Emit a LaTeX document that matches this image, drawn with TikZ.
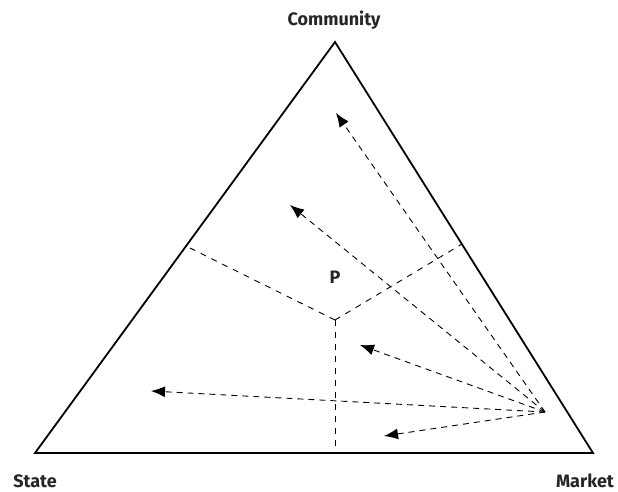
\documentclass[tikz,border=0pt]{standalone}
\usepackage{fontspec}
\setmainfont{Fira Sans}
\usetikzlibrary{arrows.meta}
\begin{document}
\begin{tikzpicture}[x=1pt,y=-1pt,
  edge/.style={line width=1.8pt,line join=miter},
  part/.style={line width=0.9pt,dash pattern=on 6pt off 6pt},
  flow/.style={line width=0.9pt,dash pattern=on 6pt off 5pt,-{Latex[length=14pt,width=11pt]}},
  lab/.style={font=\fontsize{18}{21}\selectfont\bfseries,text=black!85,inner sep=0pt}]
\useasboundingbox (0,0) rectangle (618,491);
% vertices
\coordinate (C) at (335,42);
\coordinate (S) at (35,453);
\coordinate (M) at (593,453);
\draw[edge] (C) -- (S) -- (M) -- cycle;
% labels
\node[lab] (lc) at (334,20) {Community};
\node[lab] (ls) at (35,481) {State};
\node[lab] (lm) at (585,481) {Market};
\node[lab] (p) at (335,277) {P};
% partition
\coordinate (Y) at (335,320);
\coordinate (YL) at (190,248);
\coordinate (YR) at (462,244);
\coordinate (YB) at (335,453);
\draw[part] (Y) -- (YL);
\draw[part] (Y) -- (YR);
\draw[part] (Y) -- (YB);
% flows
\coordinate (O) at (545,412);
\coordinate (t1) at (336,113);
\coordinate (t2) at (290,205);
\coordinate (t3) at (360,345);
\coordinate (t4) at (151,391);
\coordinate (t5) at (384,436);
\foreach \t in {t1,t2,t3,t4,t5} \draw[flow] (O) -- (\t);
\end{tikzpicture}
\end{document}
